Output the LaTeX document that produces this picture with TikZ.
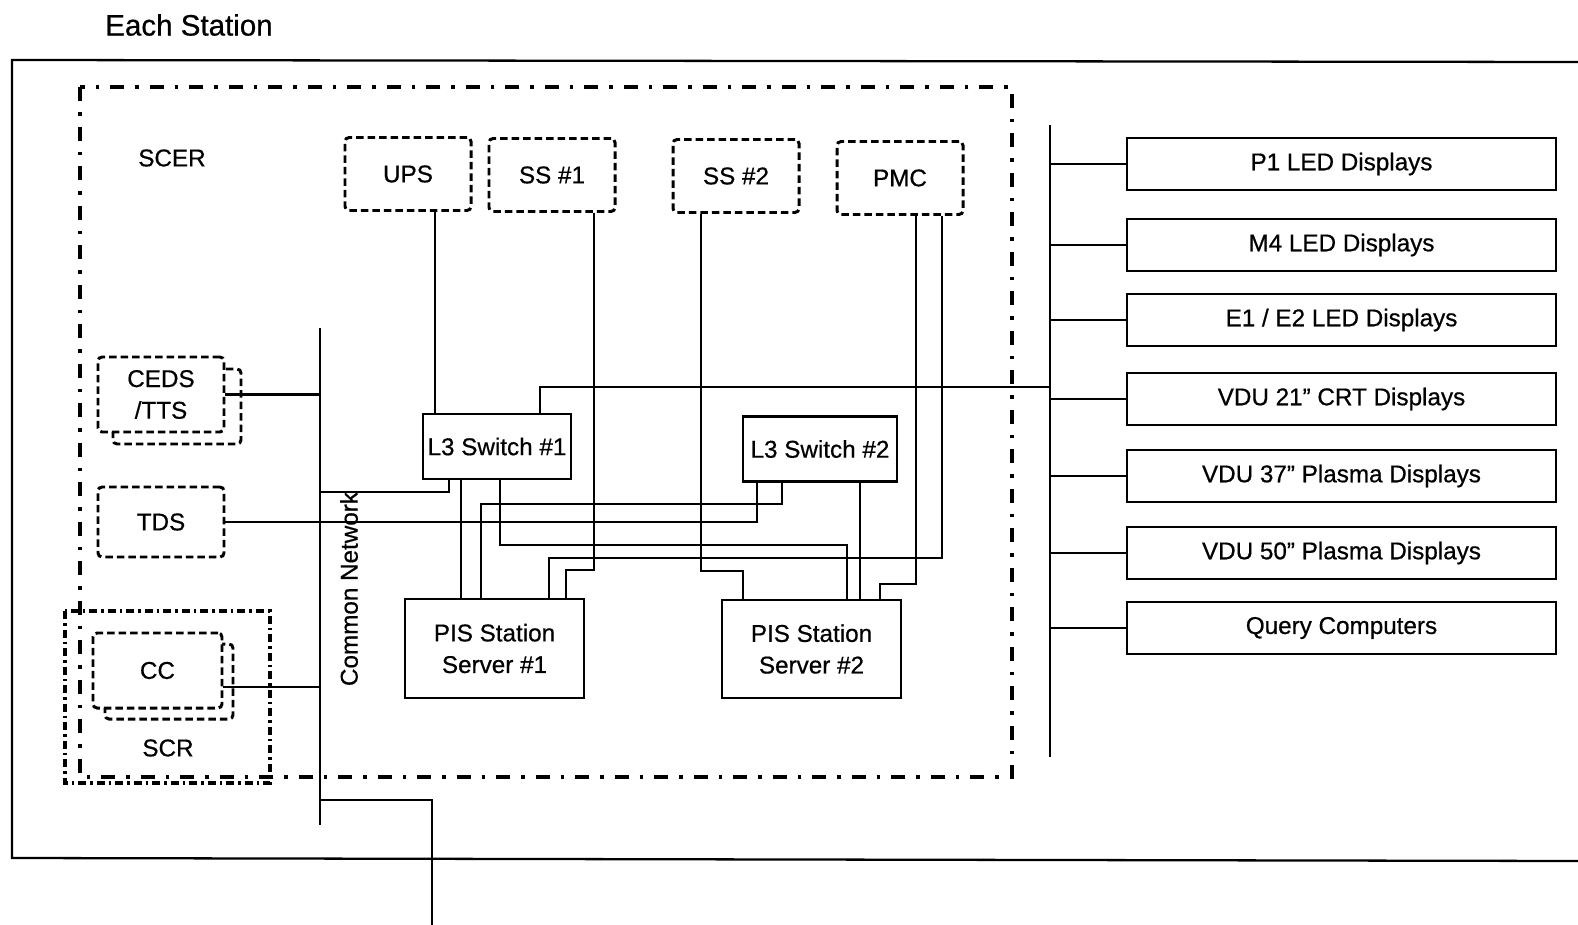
\documentclass[tikz,border=0pt]{standalone}
\usepackage{fontspec}
\setmainfont{Liberation Sans}[FakeBold=0.6]
\usetikzlibrary{positioning, calc}

\begin{document}
\begin{tikzpicture}[
    x=0.2mm, y=-0.2mm,
    font=\fontsize{13.8}{18}\selectfont,
    box/.style={draw, line width=1.3pt, fill=white, align=center, inner sep=1pt},
    switchbox/.style={box, minimum width=29.6mm, minimum height=13mm},
    serverbox/.style={box, minimum width=35.8mm, minimum height=19.7mm},
    display/.style={box, minimum width=85.8mm, minimum height=10.4mm},
    dashbox/.style={draw, line width=1.7pt, fill=white, align=center, dash pattern=on 1.5mm off 0.8mm, rounded corners=0.8mm, minimum width=25.2mm, minimum height=14.6mm},
    backbox/.style={draw, line width=1.7pt, fill=white, dash pattern=on 1.5mm off 0.8mm, rounded corners=0.8mm},
    wire/.style={line width=1.2pt},
    roomline/.style={line width=2.3pt, dash pattern=on 2.8mm off 2.2mm on 0.7mm off 2.2mm},
    scrline/.style={line width=1.8pt, dash pattern=on 1.6mm off 0.8mm on 0.5mm off 0.8mm}
]
\useasboundingbox (0,0) rectangle (1578,925);

% Station frame, open to the right
\draw[line width=1.3pt] (1578,62) -- (12,60) -- (12,858) -- (1578,861);
\node (title) at (189,25) {\fontsize{16.8}{20}\selectfont Each Station};

% Equipment rooms
\draw[roomline] (80,87) rectangle (1012,777);
\node (scer) at (172,158) {SCER};
\draw[scrline] (65,611) rectangle (270,783);
\node (scr) at (168,748) {SCR};

% Interfaced systems
\node[dashbox] (ups) at (408,174) {UPS};
\node[dashbox] (ss1) at (552,175) {SS \#1};
\node[dashbox] (ss2) at (736,176) {SS \#2};
\node[dashbox] (pmc) at (900,178) {PMC};

\draw[backbox] (113,369) rectangle (241,444);
\node[dashbox, minimum height=15mm] (ceds) at (161,394.5) {CEDS\\/TTS};
\node[dashbox, minimum height=14mm] (tds) at (161,522) {TDS};
\draw[backbox] (105,644) rectangle (233,719);
\node[dashbox, minimum width=25.8mm, minimum height=15mm] (cc) at (157.5,670.5) {CC};

% Switches and servers
\node[switchbox] (sw1) at (497,446.5) {L3 Switch \#1};
\node[switchbox, minimum width=30.8mm] (sw2) at (820,449) {L3 Switch \#2};
\node[serverbox] (srv1) at (494.5,648.5) {PIS Station\\Server \#1};
\node[serverbox] (srv2) at (811.5,649) {PIS Station\\Server \#2};

% Common network
\coordinate (nettop) at (320,328);
\coordinate (netbot) at (320,825);
\coordinate (uplink) at (432,925);
\draw[wire] (nettop) -- (netbot);
\node[rotate=90] (netlabel) at (349,589) {Common Network};
\draw[wire] (netbot |- 0,800) -| (uplink);

% Display bus
\coordinate (bustop) at (1050,125);
\coordinate (busbot) at (1050,757);
\draw[wire] (bustop) -- (busbot);
\node[display] (p1) at (1341.5,164) {P1 LED Displays};
\node[display] (m4) at (1341.5,245) {M4 LED Displays};
\node[display] (e1) at (1341.5,320) {E1 / E2 LED Displays};
\node[display] (vdu21) at (1341.5,399) {VDU 21" CRT Displays};
\node[display] (vdu37) at (1341.5,476) {VDU 37" Plasma Displays};
\node[display] (vdu50) at (1341.5,553) {VDU 50" Plasma Displays};
\node[display] (query) at (1341.5,628) {Query Computers};
\draw[wire] (p1.west -| bustop) -- (p1.west);
\draw[wire] (m4.west -| bustop) -- (m4.west);
\draw[wire] (e1.west -| bustop) -- (e1.west);
\draw[wire] (vdu21.west -| bustop) -- (vdu21.west);
\draw[wire] (vdu37.west -| bustop) -- (vdu37.west);
\draw[wire] (vdu50.west -| bustop) -- (vdu50.west);
\draw[wire] (query.west -| bustop) -- (query.west);

% Feeds into the servers
\draw[wire] (ups.south -| 435,0) -- (sw1.north -| 435,0);
\draw[wire] (ss1.south -| 594,0) |- (566,570) -- (srv1.north -| 566,0);
\draw[wire] (ss2.south -| 701,0) |- (743,571) -- (srv2.north -| 743,0);
\draw[wire] (pmc.south -| 942,0) |- (549,558) -- (srv1.north -| 549,0);
\draw[wire] (pmc.south -| 916,0) |- (880,584) -- (srv2.north -| 880,0);

% Switch links
\draw[wire] (sw1.north -| 540,0) |- (bustop |- 0,387);
\draw[wire] (sw1.south -| 449,0) |- (nettop |- 0,492);
\draw[wire] (sw1.south -| 461,0) -- (srv1.north -| 461,0);
\draw[wire] (sw1.south -| 500,0) |- (847,545) -- (srv2.north -| 847,0);
\draw[wire] (sw2.south -| 782,0) |- (481,504) -- (srv1.north -| 481,0);
\draw[wire] (sw2.south -| 860,0) -- (srv2.north -| 860,0);
\draw[wire] (tds.east) -| (sw2.south -| 757,0);

% Left side systems onto the common network
\draw[wire] (ceds.east) -- (ceds.east -| nettop);
\draw[wire] (cc.east |- 0,687) -- (nettop |- 0,687);

\end{tikzpicture}
\end{document}
